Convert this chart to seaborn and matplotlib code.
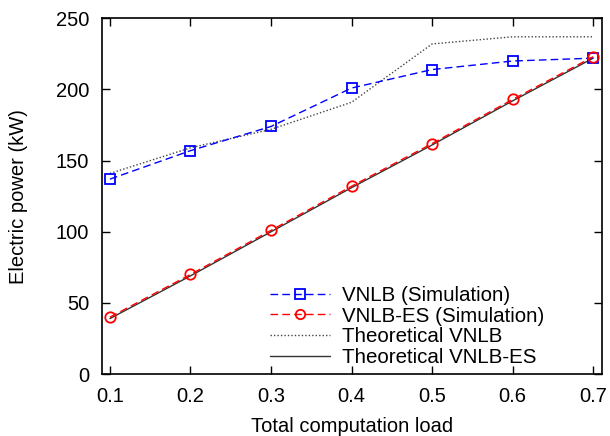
import numpy as np
import pandas as pd
import matplotlib
matplotlib.use('Agg')
import matplotlib.pyplot as plt
import seaborn as sns

load = [0.1, 0.2, 0.3, 0.4, 0.5, 0.6, 0.7]
vnlb_sim = [137, 157, 174, 201, 214, 220, 222]
vnlb_es_sim = [40, 70, 101, 132, 162, 193, 223]
theo_vnlb = [141, 159, 172, 191, 232, 237, 237]
theo_vnlb_es = [39, 69, 100, 131, 161, 192, 222]

sns.set_style('ticks', {'text.color': 'black', 'axes.labelcolor': 'black',
                        'xtick.color': 'black', 'ytick.color': 'black',
                        'axes.edgecolor': 'black'})
plt.rcParams['font.family'] = ['Liberation Sans', 'DejaVu Sans']
plt.rcParams['font.size'] = 14.5

df = pd.DataFrame({'load': load, 'vnlb': vnlb_sim, 'vnlb_es': vnlb_es_sim,
                   'theo': theo_vnlb, 'theo_es': theo_vnlb_es})

fig, ax = plt.subplots(figsize=(6.1, 4.36), dpi=100)
sns.lineplot(data=df, x='load', y='theo', ax=ax, color='#444444', linestyle=(0, (1, 1.5)),
             linewidth=1, label='Theoretical VNLB')
sns.lineplot(data=df, x='load', y='theo_es', ax=ax, color='#333333', linestyle='-',
             linewidth=1, label='Theoretical VNLB-ES')
sns.lineplot(data=df, x='load', y='vnlb', ax=ax, color='blue', linestyle=(0, (5.5, 3)),
             linewidth=1, marker='s', markersize=7.5, markerfacecolor='none',
             markeredgecolor='blue', markeredgewidth=1.3, label='VNLB (Simulation)')
sns.lineplot(data=df, x='load', y='vnlb_es', ax=ax, color='red', linestyle=(0, (5.5, 3)),
             linewidth=1, marker='o', markersize=7.5, markerfacecolor='none',
             markeredgecolor='red', markeredgewidth=1.3, label='VNLB-ES (Simulation)')

ax.set_xlim(0.09, 0.711)
ax.set_ylim(0, 250)
ax.set_xticks(load)
ax.set_yticks([0, 50, 100, 150, 200, 250])
ax.set_xlabel('Total computation load', labelpad=8)
ax.set_ylabel('Electric power (kW)', labelpad=20)
ax.tick_params(direction='in', top=True, right=True, length=6, width=1, pad=9)
for s in ax.spines.values():
    s.set_linewidth(1.2)

h, l = ax.get_legend_handles_labels()
order = [2, 3, 0, 1]
ax.legend([h[i] for i in order], [l[i] for i in order], loc='lower left',
          bbox_to_anchor=(0.336, 0.02), frameon=False, handlelength=2.9,
          handletextpad=0.6, fontsize=14.8, labelspacing=0.08, borderaxespad=0,
          borderpad=0, markerscale=0.9)

plt.subplots_adjust(left=0.167, right=0.987, top=0.958, bottom=0.142)
plt.savefig('out.png')
